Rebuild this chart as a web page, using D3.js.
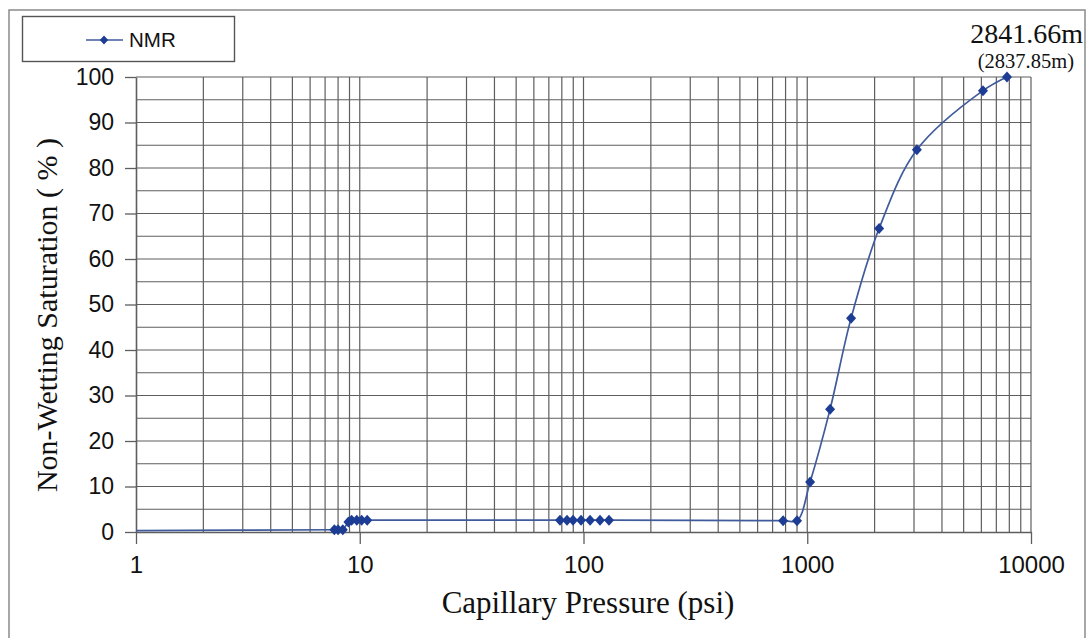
<!DOCTYPE html>
<html>
<head>
<meta charset="utf-8">
<script src="https://cdn.jsdelivr.net/npm/d3@7/dist/d3.min.js"></script>
<style>
  html, body { margin: 0; padding: 0; background: #fff; }
  svg { display: block; }
</style>
</head>
<body>
<svg id="chart" width="1089" height="638"></svg>
<script>
// Capillary pressure (psi) and non-wetting saturation (%) from NMR
const pressure = [1, 7.7, 8.0, 8.4, 8.9, 9.2, 9.7, 10.2, 10.8,
  78.5, 84.4, 89.8, 97.5, 107, 118.5, 130,
  780, 900, 1030, 1265, 1570, 2095, 3090, 6100, 7810];
const saturation = [0.3, 0.5, 0.5, 0.5, 2.2, 2.6, 2.6, 2.6, 2.6,
  2.6, 2.6, 2.6, 2.6, 2.6, 2.6, 2.6,
  2.5, 2.5, 11, 27, 47, 66.7, 84, 97, 100];
const xTickLabels = [1, 10, 100, 1000, 10000];
const yTickLabels = [0, 10, 20, 30, 40, 50, 60, 70, 80, 90, 100];
const seriesName = "NMR";
const depthMain = "2841.66m";
const depthSub = "(2837.85m)";

const svg = d3.select("#chart");
const plotLeft = 136, plotRight = 1031, plotTop = 77, plotBottom = 532;

const x = d3.scaleLog().domain([1, 10000]).range([plotLeft, plotRight]);
const y = d3.scaleLinear().domain([0, 100]).range([plotBottom, plotTop]);

const sans = "Arial, 'Liberation Sans', sans-serif";
const serif = "'Liberation Serif', 'Times New Roman', serif";

// outer chart frame
svg.append("path")
  .attr("d", "M9,638 V10 H1085 V638")
  .attr("fill", "none").attr("stroke", "#8a8a8a").attr("stroke-width", 1.5);

const gridColor = "#5e5e5e";

// horizontal grid every 5 %
const hVals = d3.range(5, 101, 5);
svg.append("g").selectAll("line").data(hVals).join("line")
  .attr("x1", plotLeft).attr("x2", plotRight)
  .attr("y1", d => y(d)).attr("y2", d => y(d))
  .attr("stroke", gridColor).attr("stroke-width", 1.2);

// vertical grid at every log minor tick
const vVals = [];
for (let dec = 1; dec < 10000; dec *= 10) {
  for (let m = 1; m < 10; m++) vVals.push(dec * m);
}
vVals.push(10000);
svg.append("g").selectAll("line").data(vVals.filter(v => v > 1)).join("line")
  .attr("x1", d => x(d)).attr("x2", d => x(d))
  .attr("y1", plotTop).attr("y2", plotBottom)
  .attr("stroke", gridColor).attr("stroke-width", 1.2);

// x axis
const xAxis = d3.axisBottom(x)
  .tickValues(xTickLabels)
  .tickFormat(d3.format("d"))
  .tickSize(12).tickSizeOuter(0).tickPadding(12);
const gx = svg.append("g").attr("transform", `translate(0,${plotBottom})`).call(xAxis);
gx.select(".domain").attr("stroke", gridColor).attr("stroke-width", 1.6);
gx.selectAll(".tick line").attr("stroke", gridColor).attr("stroke-width", 1.3);
gx.selectAll("text").attr("font-family", sans)
  .attr("font-size", 24).attr("fill", "#111");

// y axis
const yAxis = d3.axisLeft(y)
  .tickValues(yTickLabels)
  .tickSize(11).tickSizeOuter(0).tickPadding(11);
const gy = svg.append("g").attr("transform", `translate(${plotLeft},0)`).call(yAxis);
gy.select(".domain").attr("stroke", gridColor).attr("stroke-width", 1.6);
gy.selectAll(".tick line").attr("stroke", gridColor).attr("stroke-width", 1.3);
gy.selectAll("text").attr("font-family", sans)
  .attr("font-size", 23).attr("fill", "#111");

// data curve
const pts = pressure.map((p, i) => [p, saturation[i]]);
const line = d3.line()
  .x(d => x(d[0])).y(d => y(d[1]))
  .curve(d3.curveCatmullRom.alpha(0.5));
svg.append("path").datum(pts)
  .attr("d", line)
  .attr("fill", "none").attr("stroke", "#3f5b9b").attr("stroke-width", 1.7);

// diamond marker, slightly taller than wide
const markerShape = {
  draw(ctx, size) {
    const w = Math.sqrt(size) / 2, h = w * 1.1;
    ctx.moveTo(0, -h); ctx.lineTo(w, 0); ctx.lineTo(0, h); ctx.lineTo(-w, 0); ctx.closePath();
  }
};
const diamond = d3.symbol().type(markerShape).size(100);
svg.append("g").selectAll("path").data(pts.slice(1)).join("path")
  .attr("d", diamond)
  .attr("transform", d => `translate(${x(d[0])},${y(d[1])})`)
  .attr("fill", "#1d3c94");

// axis titles
svg.append("text")
  .attr("x", 588).attr("y", 613)
  .attr("text-anchor", "middle")
  .attr("font-family", serif)
  .attr("font-size", 31).attr("fill", "#111")
  .text("Capillary Pressure (psi)");

svg.append("text")
  .attr("transform", `translate(57,315) rotate(-90)`)
  .attr("text-anchor", "middle")
  .attr("font-family", serif)
  .attr("font-size", 30).attr("fill", "#111")
  .text("Non-Wetting Saturation ( % )");

// depth annotation
svg.append("text")
  .attr("x", 1083).attr("y", 43).attr("text-anchor", "end")
  .attr("font-family", serif)
  .attr("font-size", 28).attr("fill", "#111")
  .text(depthMain);
svg.append("text")
  .attr("x", 1074).attr("y", 68).attr("text-anchor", "end")
  .attr("font-family", serif)
  .attr("font-size", 20.5).attr("fill", "#111")
  .text(depthSub);

// legend
const lg = svg.append("g");
lg.append("rect").attr("x", 22.5).attr("y", 16.5).attr("width", 212).attr("height", 45)
  .attr("fill", "#fff").attr("stroke", "#555").attr("stroke-width", 1.4);
lg.append("line").attr("x1", 86).attr("x2", 123).attr("y1", 40).attr("y2", 40)
  .attr("stroke", "#3f5b9b").attr("stroke-width", 1.7);
lg.append("path").attr("d", d3.symbol().type(markerShape).size(70)).attr("transform", "translate(104,40)")
  .attr("fill", "#1d3c94");
lg.append("text").attr("x", 129).attr("y", 47)
  .attr("font-family", sans)
  .attr("font-size", 20.5).attr("fill", "#111")
  .text(seriesName);
</script>
</body>
</html>
